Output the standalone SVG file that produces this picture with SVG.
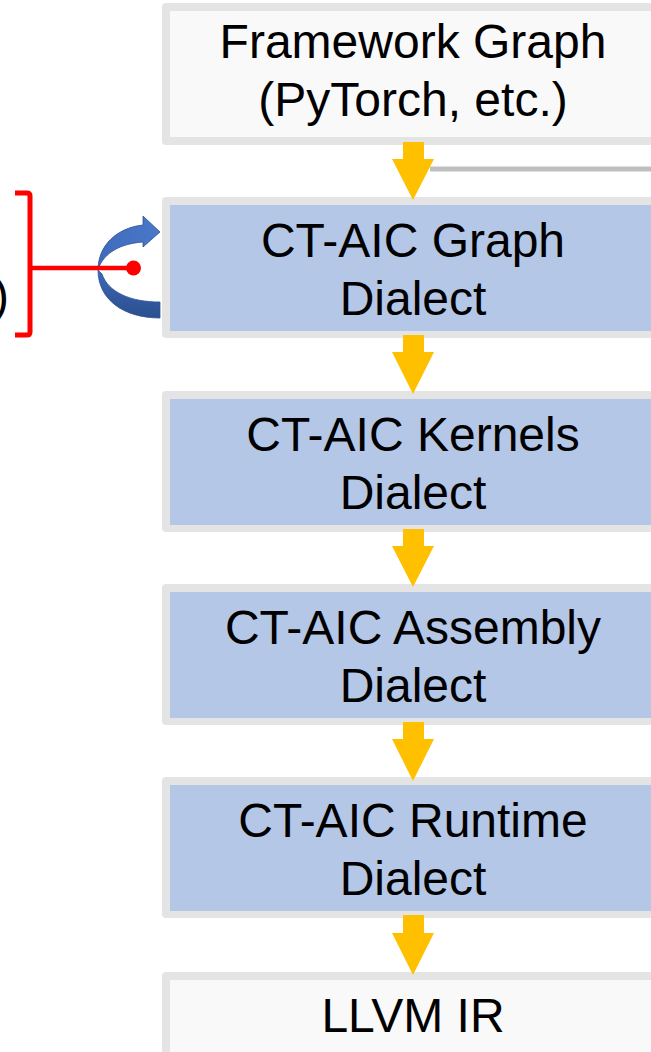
<svg xmlns="http://www.w3.org/2000/svg" width="651" height="1052" viewBox="0 0 651 1052">
  <style>
    .frame { fill: #e4e4e4; }
    .plain { fill: #f9f9f9; }
    .dialect { fill: #b4c7e7; }
    .label { font-family: "Liberation Sans", Arial, sans-serif; font-size: 48px; fill: #000; text-anchor: middle; }
    .flow { fill: #ffc000; }
    .bracket { fill: none; stroke: #ff0000; stroke-width: 5; stroke-linejoin: round; }
  </style>
  <defs>
    <linearGradient id="loopBack" x1="0" y1="0" x2="0" y2="1">
      <stop offset="0" stop-color="#3d69b8"/>
      <stop offset="1" stop-color="#2b4f8f"/>
    </linearGradient>
    <linearGradient id="loopFront" x1="0" y1="0" x2="1" y2="0">
      <stop offset="0" stop-color="#3f6bbd"/>
      <stop offset="1" stop-color="#4a78c8"/>
    </linearGradient>
  </defs>
  <rect width="651" height="1052" fill="#ffffff"/>

  <!-- compilation stages -->
  <g id="framework-graph">
    <rect class="frame" x="162" y="3" width="520" height="142" rx="4"/>
    <rect class="plain" x="170" y="11" width="504" height="126"/>
    <text class="label" x="413" y="58">Framework Graph</text>
    <text class="label" x="413" y="116">(PyTorch, etc.)</text>
  </g>
  <g id="graph-dialect">
    <rect class="frame" x="162" y="197" width="520" height="141" rx="4"/>
    <rect class="dialect" x="170" y="205" width="504" height="126"/>
    <text class="label" x="413" y="257">CT-AIC Graph</text>
    <text class="label" x="413" y="315">Dialect</text>
  </g>
  <g id="kernels-dialect">
    <rect class="frame" x="162" y="391" width="520" height="141" rx="4"/>
    <rect class="dialect" x="170" y="399" width="504" height="126"/>
    <text class="label" x="413" y="451">CT-AIC Kernels</text>
    <text class="label" x="413" y="509">Dialect</text>
  </g>
  <g id="assembly-dialect">
    <rect class="frame" x="162" y="584" width="520" height="141" rx="4"/>
    <rect class="dialect" x="170" y="592" width="504" height="126"/>
    <text class="label" x="413" y="644">CT-AIC Assembly</text>
    <text class="label" x="413" y="702">Dialect</text>
  </g>
  <g id="runtime-dialect">
    <rect class="frame" x="162" y="777" width="520" height="141" rx="4"/>
    <rect class="dialect" x="170" y="785" width="504" height="126"/>
    <text class="label" x="413" y="837">CT-AIC Runtime</text>
    <text class="label" x="413" y="895">Dialect</text>
  </g>
  <g id="llvm-ir">
    <rect class="frame" x="162" y="972" width="520" height="100" rx="4"/>
    <rect class="plain" x="170" y="980" width="504" height="90"/>
    <text class="label" x="413" y="1032">LLVM IR</text>
  </g>

  <!-- partly visible side label -->
  <text class="label" x="9" y="312" style="text-anchor:end">)</text>

  <g id="connectors">
    <!-- lowering arrows -->
    <path class="flow" d="M403,142 H424 V159 H434 L413,200 L392,159 H403 Z"/>
    <path class="flow" d="M403,335 H424 V352 H434 L413,394 L392,352 H403 Z"/>
    <path class="flow" d="M403,529 H424 V546 H434 L413,587 L392,546 H403 Z"/>
    <path class="flow" d="M403,722 H424 V739 H434 L413,781 L392,739 H403 Z"/>
    <path class="flow" d="M403,915 H424 V933 H434 L413,975 L392,933 H403 Z"/>

    <!-- side branch line -->
    <line x1="430" y1="169" x2="651" y2="169" stroke="#bfbfbf" stroke-width="5"/>

    <!-- self-loop on the graph dialect -->
    <path d="M98,270 C98,300 124,318 160,318 L160,302 C130,302 108,292 102,274 Z" fill="url(#loopBack)" stroke="#2f528f" stroke-width="0.8"/>
    <path d="M143,225 L143,216 L160,232 L143,247 L143,242 C116,244 102,256 98,270 C98,246 116,228 143,225 Z" fill="url(#loopFront)" stroke="#2f528f" stroke-width="0.8" stroke-linejoin="round"/>

    <!-- bracket pointing at the loop -->
    <path class="bracket" d="M15,193 H27 Q30,193 30,196 V332 Q30,335 27,335 H15"/>
    <line x1="30" y1="268" x2="133" y2="268" stroke="#ff0000" stroke-width="4.5"/>
    <circle cx="133.5" cy="268" r="7.5" fill="#ff0000"/>
  </g>
</svg>
